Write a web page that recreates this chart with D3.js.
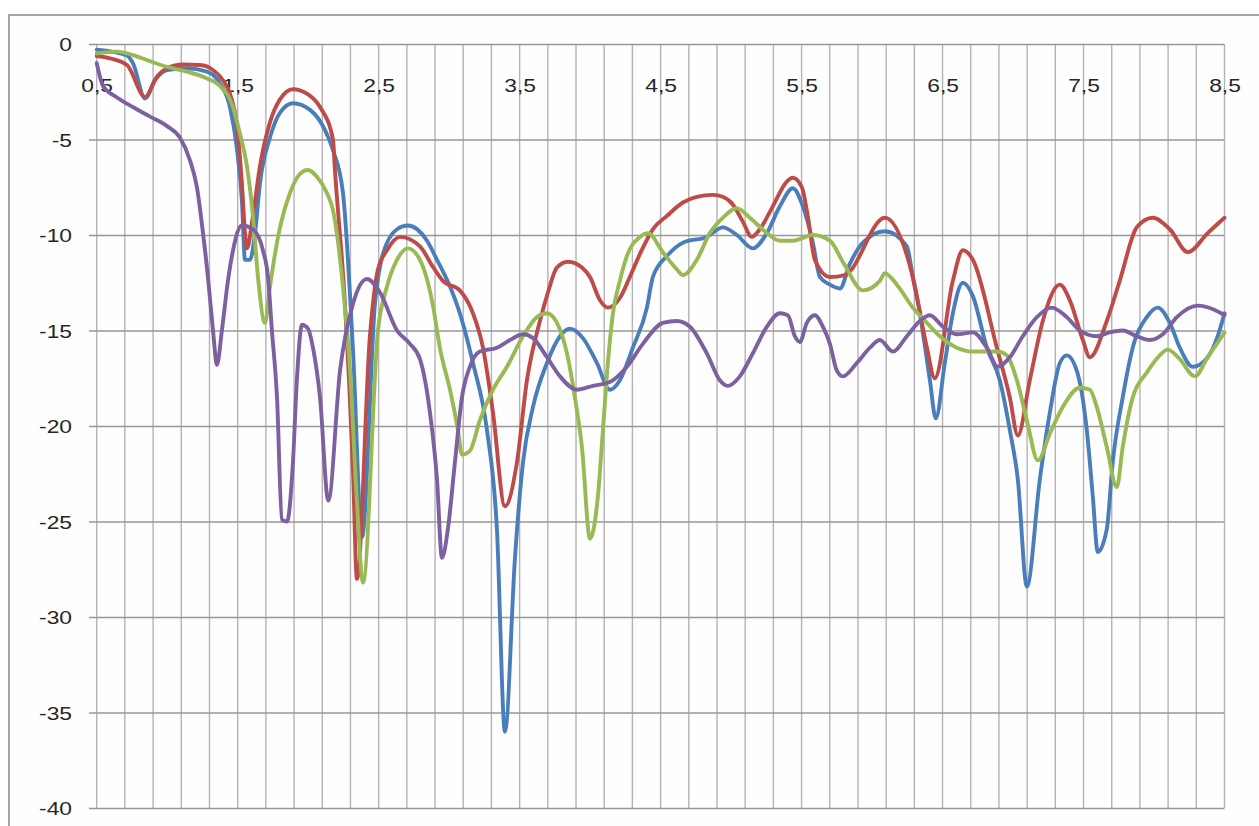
<!DOCTYPE html>
<html>
<head>
<meta charset="utf-8">
<script src="https://cdn.jsdelivr.net/npm/d3@7/dist/d3.min.js"></script>
<style>
  html, body { margin: 0; padding: 0; background: #ffffff; }
  svg { display: block; }
  text { font-family: "Liberation Sans", Arial, sans-serif; font-size: 19px; fill: #262626; }
</style>
</head>
<body>
<svg id="chart" width="1259" height="826"></svg>
<script>
// ---------- data ----------
const xTickValues = [0.5, 1.5, 2.5, 3.5, 4.5, 5.5, 6.5, 7.5, 8.5];
const xTickLabels = ["0,5", "1,5", "2,5", "3,5", "4,5", "5,5", "6,5", "7,5", "8,5"];
const yTickValues = [0, -5, -10, -15, -20, -25, -30, -35, -40];
const yTickLabels = ["0", "-5", "-10", "-15", "-20", "-25", "-30", "-35", "-40"];

const blueX = [0.50,0.715,0.757,0.843,0.913,0.999,1.14,1.282,1.374,1.445,1.495,1.530,1.552,1.587,1.623,1.658,1.729,1.800,1.892,2.013,2.105,2.176,2.247,2.318,2.382,2.474,2.530,2.630,2.708,2.843,2.914,3.006,3.076,3.169,3.268,3.339,3.396,3.467,3.524,3.595,3.694,3.786,3.857,3.949,4.048,4.140,4.211,4.303,4.403,4.445,4.545,4.658,4.828,4.941,5.041,5.154,5.254,5.346,5.438,5.509,5.580,5.630,5.701,5.772,5.843,5.935,6.091,6.247,6.289,6.339,6.41,6.452,6.516,6.573,6.644,6.715,6.814,6.906,6.977,7.034,7.098,7.190,7.261,7.332,7.381,7.452,7.523,7.566,7.601,7.665,7.707,7.778,7.849,7.949,8.026,8.112,8.183,8.275,8.381,8.452,8.50];
const blueY = [-0.3,-0.6,-1.0,-2.85,-1.9,-1.36,-1.27,-1.45,-2.05,-3.3,-5.5,-8.2,-11.3,-11.3,-9.9,-7.3,-4.9,-3.6,-3.1,-3.45,-4.3,-5.55,-7.8,-16.0,-25.8,-13.6,-11.0,-9.7,-9.5,-10.3,-11.3,-12.7,-14.1,-16.7,-20.2,-25.4,-36.0,-26.9,-21.9,-19.0,-16.7,-15.3,-14.9,-15.4,-16.7,-18.1,-17.6,-15.9,-13.8,-12.2,-11.1,-10.4,-10.1,-9.6,-10.0,-10.7,-9.9,-8.5,-7.55,-8.5,-10.4,-12.2,-12.6,-12.8,-11.5,-10.4,-9.8,-10.6,-12.2,-14.1,-17.6,-19.6,-16.7,-14.1,-12.5,-13.2,-15.9,-17.6,-20.2,-22.8,-28.4,-22.8,-19.3,-16.7,-16.3,-17.1,-20.2,-23.7,-26.6,-25.4,-21.9,-18.5,-15.9,-14.3,-13.8,-14.6,-15.9,-16.9,-16.4,-15.3,-14.1];

const redX = [0.50,0.594,0.715,0.843,0.928,0.999,1.112,1.233,1.325,1.396,1.445,1.495,1.530,1.552,1.566,1.608,1.658,1.729,1.800,1.892,1.991,2.084,2.176,2.190,2.261,2.318,2.346,2.438,2.495,2.559,2.651,2.793,2.888,2.956,3.076,3.169,3.240,3.311,3.396,3.481,3.552,3.644,3.701,3.765,3.843,3.942,3.999,4.069,4.126,4.211,4.282,4.353,4.445,4.545,4.658,4.757,4.871,4.941,5.012,5.083,5.147,5.204,5.296,5.395,5.438,5.502,5.544,5.594,5.701,5.807,6.091,6.289,6.389,6.445,6.573,6.644,6.715,6.885,6.977,7.034,7.119,7.211,7.332,7.402,7.495,7.545,7.665,7.757,7.878,7.991,8.112,8.240,8.381,8.50];
const redY = [-0.63,-0.75,-1.1,-2.77,-1.7,-1.27,-1.07,-1.1,-1.36,-1.9,-2.6,-4.3,-7.3,-9.9,-10.7,-9.0,-6.4,-4.1,-2.9,-2.37,-2.6,-3.3,-5.0,-6.6,-13.6,-22.3,-28.0,-15.3,-11.8,-10.8,-10.1,-10.6,-11.7,-12.4,-12.9,-14.1,-15.9,-19.3,-24.2,-21.9,-17.6,-14.5,-13.0,-11.7,-11.4,-11.7,-12.2,-13.4,-13.8,-13.3,-12.2,-11.0,-9.7,-9.0,-8.3,-8.0,-7.9,-8.0,-8.4,-9.3,-10.1,-9.7,-8.5,-7.2,-7.0,-7.5,-9.0,-11.3,-12.2,-12.1,-9.1,-12.2,-15.9,-17.5,-12.4,-10.8,-11.3,-15.9,-18.5,-20.5,-17.6,-14.5,-12.6,-13.4,-15.5,-16.4,-14.5,-12.4,-9.6,-9.1,-9.7,-10.9,-9.9,-9.1];

const greenX = [0.50,0.644,0.757,0.878,0.999,1.14,1.282,1.374,1.467,1.516,1.566,1.608,1.644,1.694,1.729,1.800,1.871,1.942,1.999,2.062,2.133,2.176,2.247,2.297,2.346,2.389,2.495,2.559,2.630,2.708,2.793,2.888,2.934,3.006,3.062,3.091,3.147,3.218,3.311,3.410,3.524,3.623,3.694,3.765,3.836,3.892,3.942,3.999,4.055,4.091,4.126,4.162,4.211,4.261,4.353,4.410,4.516,4.615,4.658,4.757,4.849,4.941,5.041,5.133,5.254,5.346,5.438,5.580,5.701,5.800,5.935,6.055,6.091,6.176,6.289,6.389,6.481,6.601,6.715,6.885,6.956,7.027,7.098,7.176,7.261,7.353,7.474,7.545,7.594,7.665,7.736,7.778,7.849,7.949,8.041,8.097,8.183,8.289,8.381,8.50];
const greenY = [-0.5,-0.4,-0.58,-0.9,-1.2,-1.45,-1.8,-2.2,-3.3,-4.7,-6.4,-9.0,-12.2,-14.6,-12.7,-9.6,-7.8,-6.8,-6.6,-6.95,-7.8,-8.7,-12.7,-17.1,-24.0,-28.2,-15.0,-12.7,-11.3,-10.7,-11.3,-13.8,-15.9,-18.1,-20.2,-21.5,-21.3,-19.7,-18.1,-16.9,-15.3,-14.3,-14.1,-14.6,-16.2,-18.5,-21.1,-25.9,-23.7,-20.2,-16.7,-14.1,-12.4,-11.1,-10.1,-9.9,-10.9,-11.8,-12.1,-11.3,-9.9,-9.1,-8.6,-9.1,-9.9,-10.3,-10.3,-10.0,-10.3,-11.5,-12.9,-12.4,-12.0,-12.6,-13.8,-14.6,-15.3,-15.9,-16.1,-16.1,-16.3,-17.6,-19.7,-21.8,-20.4,-19.0,-18.0,-18.1,-19.0,-21.1,-23.2,-21.1,-18.5,-17.2,-16.3,-16.0,-16.5,-17.4,-16.4,-15.1];

const purpleX = [0.50,0.545,0.644,0.757,0.878,0.999,1.09,1.162,1.211,1.254,1.289,1.325,1.353,1.388,1.431,1.467,1.530,1.608,1.679,1.715,1.743,1.779,1.814,1.850,1.892,1.920,1.956,1.999,2.034,2.084,2.143,2.226,2.318,2.417,2.509,2.630,2.722,2.793,2.864,2.914,2.949,2.991,3.041,3.091,3.147,3.218,3.339,3.431,3.524,3.595,3.694,3.786,3.906,4.020,4.140,4.261,4.374,4.516,4.615,4.708,4.828,4.920,4.977,5.062,5.154,5.254,5.346,5.403,5.452,5.488,5.537,5.594,5.651,5.701,5.750,5.793,5.892,5.985,6.055,6.147,6.247,6.339,6.41,6.502,6.601,6.715,6.814,6.892,6.977,7.069,7.169,7.275,7.381,7.474,7.594,7.686,7.778,7.878,7.970,8.062,8.162,8.311,8.423,8.50];
const purpleY = [-1.0,-2.2,-2.8,-3.3,-3.8,-4.3,-4.9,-6.1,-7.5,-9.9,-12.2,-15.0,-16.8,-15.0,-12.4,-10.8,-9.5,-9.7,-10.8,-12.2,-15.0,-18.5,-24.9,-25.0,-21.9,-17.6,-14.7,-14.9,-15.9,-18.5,-23.9,-17.1,-13.6,-12.3,-13.0,-15.0,-15.7,-16.5,-19.3,-22.8,-26.9,-25.4,-21.9,-18.5,-16.9,-16.1,-15.9,-15.5,-15.2,-15.4,-16.4,-17.4,-18.1,-17.9,-17.7,-16.9,-15.7,-14.6,-14.5,-14.8,-16.2,-17.6,-17.9,-17.4,-16.2,-14.8,-14.1,-14.2,-15.3,-15.6,-14.6,-14.2,-14.8,-15.7,-17.1,-17.4,-16.7,-15.9,-15.5,-16.1,-15.3,-14.5,-14.2,-14.8,-15.2,-15.1,-15.9,-16.9,-16.4,-15.3,-14.3,-13.8,-14.3,-15.0,-15.3,-15.1,-15.0,-15.3,-15.5,-15.2,-14.3,-13.7,-13.9,-14.2];

const seriesNames = ["blue", "red", "green", "purple"];
const seriesColors = ["#4a7ebb", "#be4b48", "#98b954", "#7d60a0"];

// ---------- layout ----------
const svg = d3.select("#chart");
const plotLeft = 96.7, plotRight = 1224.5, plotTop = 44, plotBottom = 808;
const x = d3.scaleLinear().domain([0.5, 8.5]).range([plotLeft, plotRight]);
const y = d3.scaleLinear().domain([-40, 0]).range([plotBottom, plotTop]);
const TX = 1.2; // horizontal stretch of the labels

// outer chart border (cropped at right and bottom)
svg.append("rect")
  .attr("x", 9).attr("y", 15).attr("width", 1300).attr("height", 900)
  .attr("fill", "#fefefe").attr("stroke", "#a6a6a6").attr("stroke-width", 2);

// vertical gridlines every 0.2
const vGrid = d3.range(0, 41).map(i => 0.5 + i * 0.2);
svg.append("g").selectAll("line").data(vGrid).join("line")
  .attr("x1", d => x(d)).attr("x2", d => x(d))
  .attr("y1", plotTop).attr("y2", plotBottom)
  .attr("stroke", "#b3b3b3").attr("stroke-width", 1.4);

// y axis with horizontal gridlines
const yAxis = d3.axisLeft(y)
  .tickValues(yTickValues)
  .tickFormat((d, i) => yTickLabels[i])
  .tickSizeInner(-(plotRight - 89))
  .tickSizeOuter(0)
  .tickPadding(17);
const gy = svg.append("g").attr("transform", "translate(89,0)").call(yAxis);
gy.select(".domain").remove();
gy.selectAll(".tick line").attr("stroke", "#979797").attr("stroke-width", 1.3);
gy.selectAll(".tick text")
  .attr("x", -17 / TX)
  .attr("transform", `scale(${TX},1)`)
  .attr("dy", "0.35em")
  .style("font-family", "'Liberation Sans', Arial, sans-serif")
  .style("font-size", "19px")
  .attr("fill", "#262626");

// x axis (labels only, sitting below the zero line)
const xAxis = d3.axisBottom(x)
  .tickValues(xTickValues)
  .tickFormat((d, i) => xTickLabels[i])
  .tickSize(0);
const gx = svg.append("g").attr("transform", `translate(0,${plotTop})`).call(xAxis);
gx.select(".domain").remove();
gx.selectAll(".tick text")
  .attr("x", 0)
  .attr("y", 41)
  .attr("dy", "0.35em")
  .attr("transform", `scale(${TX},1)`)
  .style("font-family", "'Liberation Sans', Arial, sans-serif")
  .style("font-size", "19px")
  .attr("fill", "#262626");

// lines
const xs = [blueX, redX, greenX, purpleX];
const ys = [blueY, redY, greenY, purpleY];
const line = d3.line()
  .x(d => x(d[0]))
  .y(d => y(d[1]))
  .curve(d3.curveMonotoneX);

seriesNames.forEach((name, k) => {
  const pts = xs[k].map((v, i) => [v, ys[k][i]]);
  svg.append("path")
    .datum(pts)
    .attr("class", "series " + name)
    .attr("fill", "none")
    .attr("stroke", seriesColors[k])
    .attr("stroke-width", 3.9)
    .attr("stroke-linejoin", "round")
    .attr("stroke-linecap", "round")
    .attr("d", line);
});
</script>
</body>
</html>
